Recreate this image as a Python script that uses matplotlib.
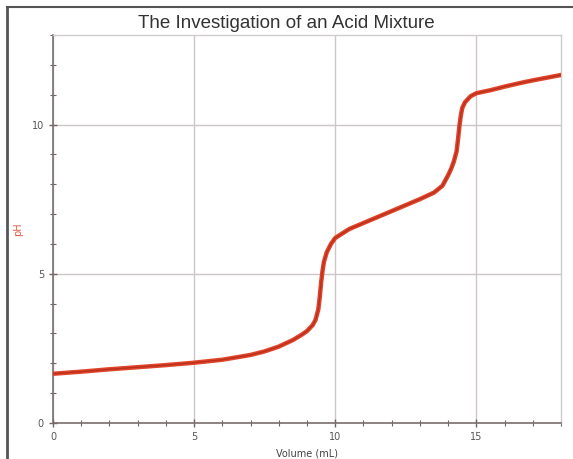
import matplotlib
matplotlib.use("Agg")
import matplotlib.pyplot as plt
from matplotlib.lines import Line2D
from matplotlib.ticker import MultipleLocator

volume_ml = [0.0, 1.0, 2.0, 3.0, 4.0, 5.0, 6.0, 7.0, 7.5, 8.0, 8.5, 8.8, 9.0, 9.2,
             9.3, 9.4, 9.45, 9.5, 9.55, 9.6, 9.7, 9.85, 10.0, 10.5, 11.0, 11.5,
             12.0, 12.5, 13.0, 13.5, 13.8, 14.0, 14.1, 14.2, 14.3, 14.35, 14.4,
             14.45, 14.5, 14.6, 14.8, 15.0, 15.5, 16.0, 16.5, 17.0, 17.5, 18.0]
ph = [1.65, 1.72, 1.80, 1.87, 1.94, 2.02, 2.12, 2.28, 2.40, 2.56, 2.78, 2.95, 3.08, 3.28,
      3.45, 3.80, 4.20, 4.70, 5.10, 5.40, 5.72, 6.00, 6.20, 6.50, 6.70, 6.90,
      7.10, 7.30, 7.50, 7.72, 7.95, 8.30, 8.50, 8.75, 9.10, 9.50, 9.95,
      10.30, 10.55, 10.75, 10.95, 11.05, 11.15, 11.27, 11.38, 11.48, 11.57, 11.66]

x_ticks = [0, 5, 10, 15]
y_ticks = [0, 5, 10]

fig = plt.figure(figsize=(5.73, 4.59), dpi=100)
ax = fig.add_axes([53/573, 1-423/459, (561-53)/573, (423-35)/459])

ax.plot(volume_ml, ph, color='#e0442a', lw=3.2, solid_capstyle='round', zorder=3)
ax.plot(volume_ml, ph, color='#b8301c', lw=1.0, zorder=4)

ax.set_xlim(0, 18)
ax.set_ylim(0, 13)
ax.set_xticks(x_ticks)
ax.set_yticks(y_ticks)
ax.xaxis.set_minor_locator(MultipleLocator(1))
ax.yaxis.set_minor_locator(MultipleLocator(1))
ax.grid(True, which='major', color='#cdc6c6', lw=1.0)
ax.set_axisbelow(True)

for side in ['left', 'bottom']:
    ax.spines[side].set_color('#7a6e6e')
    ax.spines[side].set_linewidth(1.2)
for side in ['right', 'top']:
    ax.spines[side].set_color('#d0cccc')
    ax.spines[side].set_linewidth(1.0)

ax.tick_params(which='both', direction='inout', colors='#6e6464', labelcolor='#555555',
               labelsize=7)
ax.tick_params(which='major', length=6, width=1.0)
ax.tick_params(which='minor', length=4, width=0.8)

fig.text(286/573, 1-24/459, 'The Investigation of an Acid Mixture', fontsize=13.5,
         family='Liberation Sans', color='#333333', ha='center', va='center')
ax.set_ylabel('pH', color='#e05a40', fontsize=7, labelpad=6)
fig.text((53+561)/2/573, 1-459/459, 'Volume (mL)', ha='center', va='bottom',
         fontsize=7, color='#444444')

# outer frame
fig.add_artist(Line2D([7/573, 7/573], [0, 1-7/459], color='#555555', lw=2.0,
                      transform=fig.transFigure))
fig.add_artist(Line2D([7/573, 1], [1-7/459, 1-7/459], color='#555555', lw=1.5,
                      transform=fig.transFigure))

fig.savefig('out.png', dpi=100)
